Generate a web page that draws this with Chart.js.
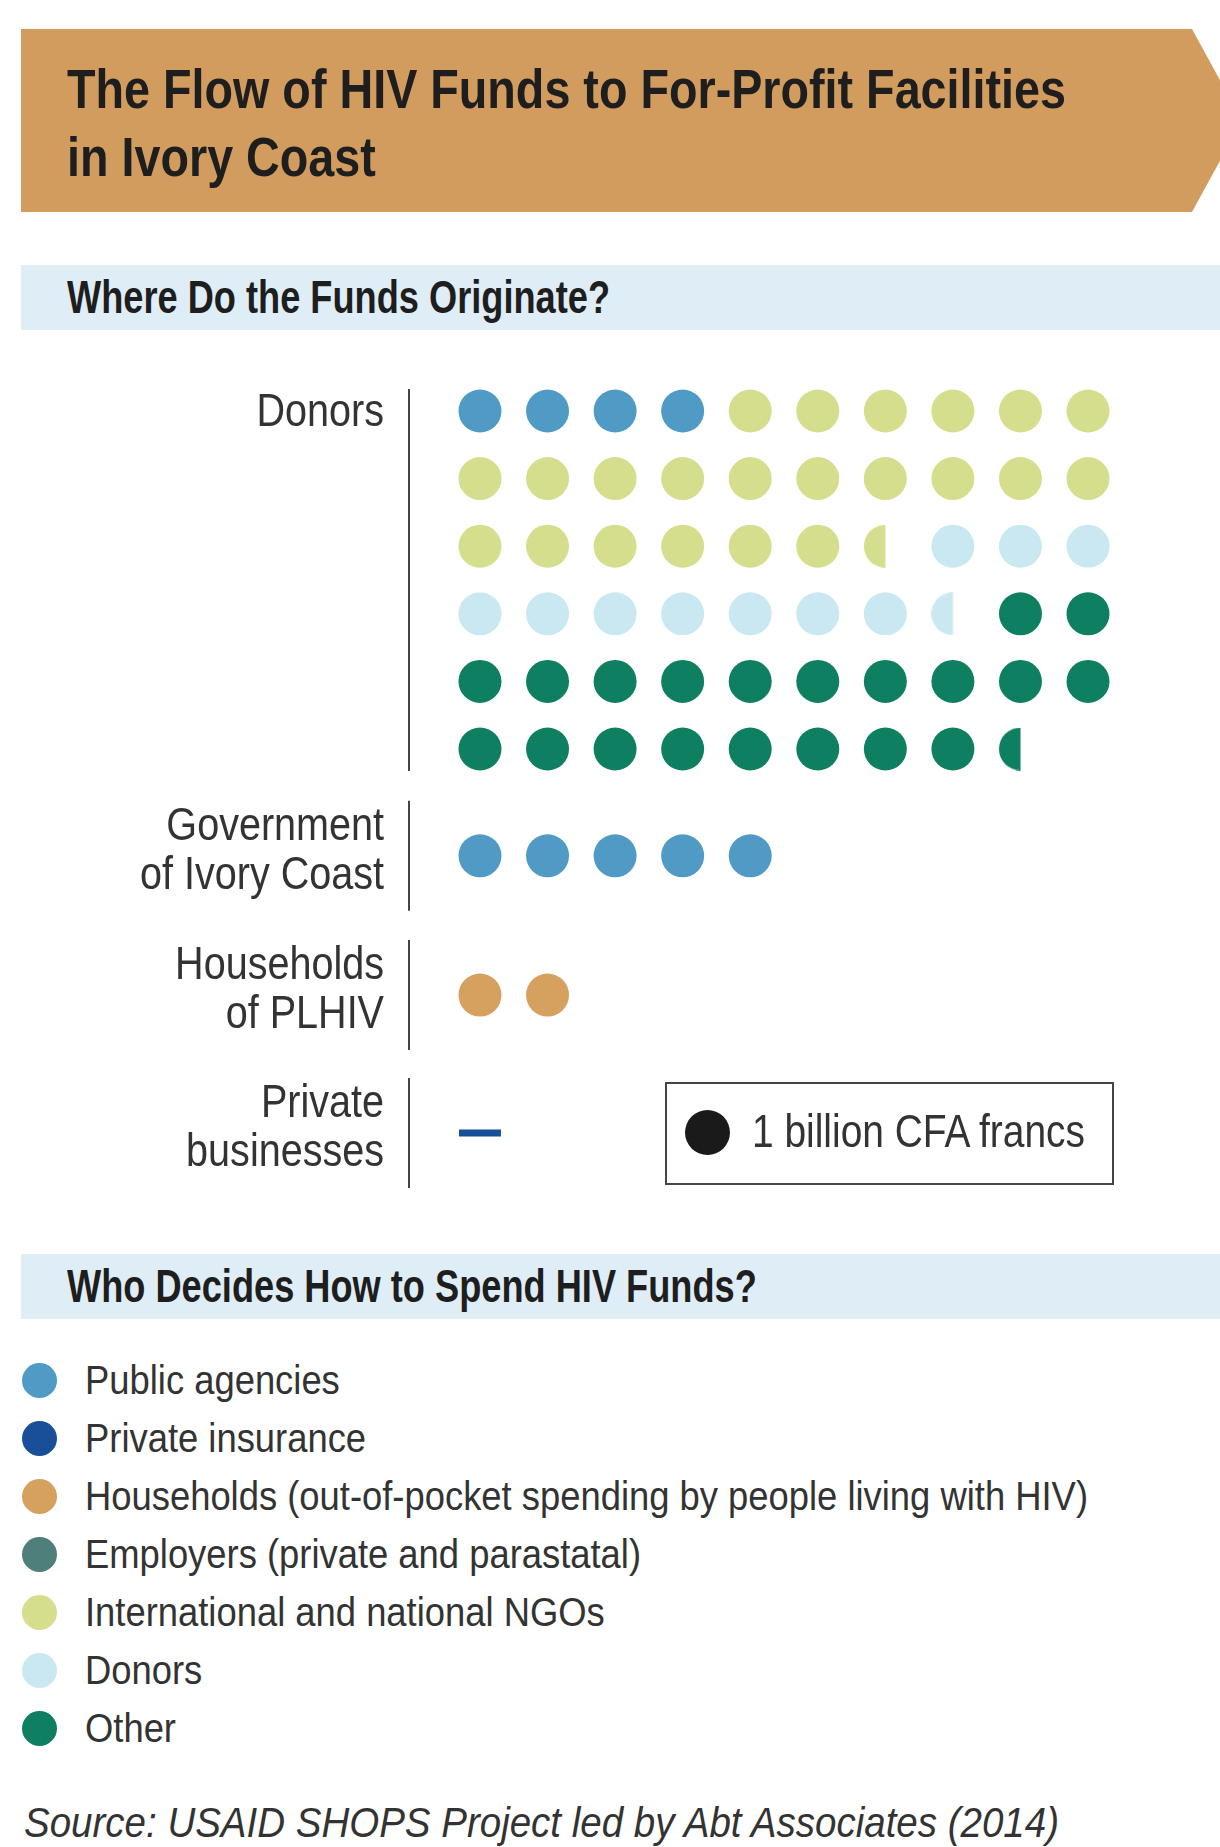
<!DOCTYPE html>
<html>
<head>
<meta charset="utf-8">
<title>The Flow of HIV Funds to For-Profit Facilities in Ivory Coast</title>
<script src="https://cdn.jsdelivr.net/npm/chart.js@4.4.1/dist/chart.umd.min.js"></script>
<style>
  body {
    margin: 0;
    width: 1220px;
    height: 1847px;
    position: relative;
    overflow: hidden;
    background: #fff;
    font-family: "Liberation Sans Narrow", "Liberation Sans", Arial, sans-serif;
  }
  .banner {
    position: absolute; left: 21px; top: 29px; width: 1221px; height: 183px;
    background: #d29c5f;
    clip-path: polygon(0 0, 1171px 0, 1221px 50%, 1171px 100%, 0 100%);
  }
  .band { position: absolute; left: 21px; width: 1199px; height: 65px; background: #deedf6; }
  .t { position: absolute; white-space: nowrap; line-height: 1; transform-origin: 0 0; }
  .title { font-weight: bold; font-size: 56px; color: #1e1e1e; }
  .head { font-weight: bold; font-size: 46px; color: #1e1e1e; }
  .leg { font-size: 41px; color: #333; }
  .dot { position: absolute; border-radius: 50%; }
  #dots { position: absolute; left: 0; top: 370px; }
  .key { position: absolute; left: 665px; top: 1082px; width: 449px; height: 103px;
         box-sizing: border-box; border: 2px solid #444; }
</style>
</head>
<body>
<div class="banner"></div>
<div class="band" style="top:265px"></div>
<div class="band" style="top:1254px"></div>

<div class="t title" id="title1">The Flow of HIV Funds to For-Profit Facilities</div>
<div class="t title" id="title2">in Ivory Coast</div>
<div class="t head" id="head1">Where Do the Funds Originate?</div>
<div class="t head" id="head2">Who Decides How to Spend HIV Funds?</div>

<canvas id="dots" width="1220" height="830"></canvas>

<div class="key"></div>
<div class="dot" style="left:685px;top:1110px;width:45px;height:45px;background:#1a1a1a"></div>
<div class="t leg" id="keyText" style="font-size:47px"></div>

<div id="legend"></div>
<div class="t leg" id="source" style="font-style:italic;color:#333;font-size:42px">Source: USAID SHOPS Project led by Abt Associates (2014)</div>

<script>
// who decides how to spend the money (legend order)
const spenders = [
  'Public agencies',
  'Private insurance',
  'Households (out-of-pocket spending by people living with HIV)',
  'Employers (private and parastatal)',
  'International and national NGOs',
  'Donors',
  'Other'
];
const spenderColors = ['#4f9bc5', '#184f98', '#d6a05f', '#4e7f7a', '#d4de8d', '#c9e8f1', '#0f7f62'];

// where the funds come from
const sources = [['Donors'], ['Government', 'of Ivory Coast'], ['Households', 'of PLHIV'], ['Private', 'businesses']];

// billion CFA francs, one value per spender
const fromDonors = [4, 0, 0, 0, 22.5, 10.5, 20.5];
const fromGovernment = [5, 0, 0, 0, 0, 0, 0];
const fromHouseholds = [0, 0, 2, 0, 0, 0, 0];
const fromPrivate = [0, 0.2, 0, 0, 0, 0, 0];

const keyLabel = '1 billion CFA francs';

// layout
const perRow = 10;
const groupRow = [0, 6.58, 8.64, 10.68];
const dotR = 21.5;

const flows = [fromDonors, fromGovernment, fromHouseholds, fromPrivate];
const groupCells = [];

// one dataset per spender, cells laid out left to right, row by row
const datasets = spenders.map((s, k) => ({
  label: s,
  data: [],
  backgroundColor: spenderColors[k],
  borderColor: spenderColors[k]
}));

flows.forEach((vals, g) => {
  let cell = 0;
  vals.forEach((v, k) => {
    if (v <= 0) return;
    if (v < 0.5) {
      datasets[k].data.push({ x: cell % perRow, y: groupRow[g] + Math.floor(cell / perRow), part: v, small: true });
      cell++;
      return;
    }
    let left = v;
    while (left > 0.001) {
      const part = Math.min(1, left);
      datasets[k].data.push({ x: cell % perRow, y: groupRow[g] + Math.floor(cell / perRow), part: part });
      left -= part;
      cell++;
    }
  });
  groupCells.push(cell);
});

// cut dots (half a billion etc) as little images
const cutCache = {};
function cutDot(color, part) {
  const key = color + part;
  if (cutCache[key]) return cutCache[key];
  const c = document.createElement('canvas');
  c.width = c.height = dotR * 2;
  const g = c.getContext('2d');
  g.beginPath();
  g.rect(0, 0, c.width * part, c.height);
  g.clip();
  g.beginPath();
  g.arc(dotR, dotR, dotR, 0, Math.PI * 2);
  g.fillStyle = color;
  g.fill();
  cutCache[key] = c;
  return c;
}

datasets.forEach((ds, k) => {
  ds.pointStyle = (c) => {
    const p = c.raw;
    if (!p) return 'circle';
    if (p.small) return 'line';
    if (p.part < 1) return cutDot(spenderColors[k], p.part);
    return 'circle';
  };
  ds.pointRadius = (c) => (c.raw && c.raw.small ? 21 : dotR);
  ds.pointHoverRadius = ds.pointRadius;
  ds.pointBorderWidth = (c) => (c.raw && c.raw.small ? 7 : 0);
});

const fontStack = '"Liberation Sans Narrow", "Liberation Sans", Arial, sans-serif';

// source labels on the left with a thin rule next to each block
const sourceLabels = {
  id: 'sourceLabels',
  afterDraw(chart) {
    const { ctx, scales: { y } } = chart;
    ctx.save();
    ctx.font = '47px ' + fontStack;
    ctx.fillStyle = '#333';
    ctx.textAlign = 'right';
    ctx.textBaseline = 'alphabetic';
    const sx = 244 / ctx.measureText('of Ivory Coast').width;
    sources.forEach((lines, g) => {
      const rows = Math.ceil(groupCells[g] / perRow);
      const top = y.getPixelForValue(groupRow[g]);
      const bottom = y.getPixelForValue(groupRow[g] + rows - 1);
      let base = top + 15 - (lines.length - 1) * 31;
      lines.forEach((line) => {
        ctx.save();
        ctx.translate(384, base);
        ctx.scale(sx, 1);
        ctx.fillText(line, 0, 0);
        ctx.restore();
        base += 49;
      });
      const pad = lines.length > 1 ? 55 : 22;
      ctx.beginPath();
      ctx.moveTo(409, top - pad);
      ctx.lineTo(409, bottom + pad);
      ctx.lineWidth = 2;
      ctx.strokeStyle = '#444';
      ctx.stroke();
    });
    ctx.restore();
  }
};

new Chart(document.getElementById('dots'), {
  type: 'scatter',
  data: { datasets: datasets },
  options: {
    responsive: false,
    animation: false,
    events: [],
    layout: { autoPadding: false, padding: { left: 446.2, right: 98.2, top: 7.2, bottom: 11.6 } },
    scales: {
      x: { type: 'linear', min: -0.5, max: 9.5, display: false },
      y: { type: 'linear', min: -0.5, max: 11.5, reverse: true, display: false }
    },
    plugins: { legend: { display: false }, tooltip: { enabled: false } }
  },
  plugins: [sourceLabels]
});

// legend of spenders
const legend = document.getElementById('legend');
spenders.forEach((s, i) => {
  const cy = 1380 + i * 58;
  const d = document.createElement('div');
  d.className = 'dot';
  d.style.cssText = 'left:21.5px;top:' + (cy - 17.5) + 'px;width:35px;height:35px;background:' + spenderColors[i];
  legend.appendChild(d);
  const t = document.createElement('div');
  t.className = 't leg';
  t.textContent = s;
  t.dataset.base = cy + 15;
  legend.appendChild(t);
});
document.getElementById('keyText').textContent = keyLabel;

// place text by baseline and squeeze to the condensed widths of the original
function place(el, x, base) {
  const fs = parseFloat(getComputedStyle(el).fontSize);
  el.style.left = x + 'px';
  el.style.top = (base - 0.85 * fs) + 'px';
}
function squeeze(els, first, width) {
  const s = width / first.getBoundingClientRect().width;
  els.forEach((el) => { el.style.transform = 'scaleX(' + s + ')'; });
}
const $ = (id) => document.getElementById(id);
place($('title1'), 67, 109);
place($('title2'), 67, 177);
place($('head1'), 67, 313);
place($('head2'), 67, 1302);
place($('keyText'), 752, 1147);
place($('source'), 24, 1838);
const legTexts = Array.from(legend.querySelectorAll('.t'));
legTexts.forEach((el) => place(el, 85, +el.dataset.base));

squeeze([$('title1'), $('title2')], $('title1'), 999);
squeeze([$('head1'), $('head2')], $('head1'), 543);
squeeze([$('keyText')], $('keyText'), 333);
squeeze([$('source')], $('source'), 1035);
squeeze(legTexts, legTexts[2], 1003);
</script>
</body>
</html>
